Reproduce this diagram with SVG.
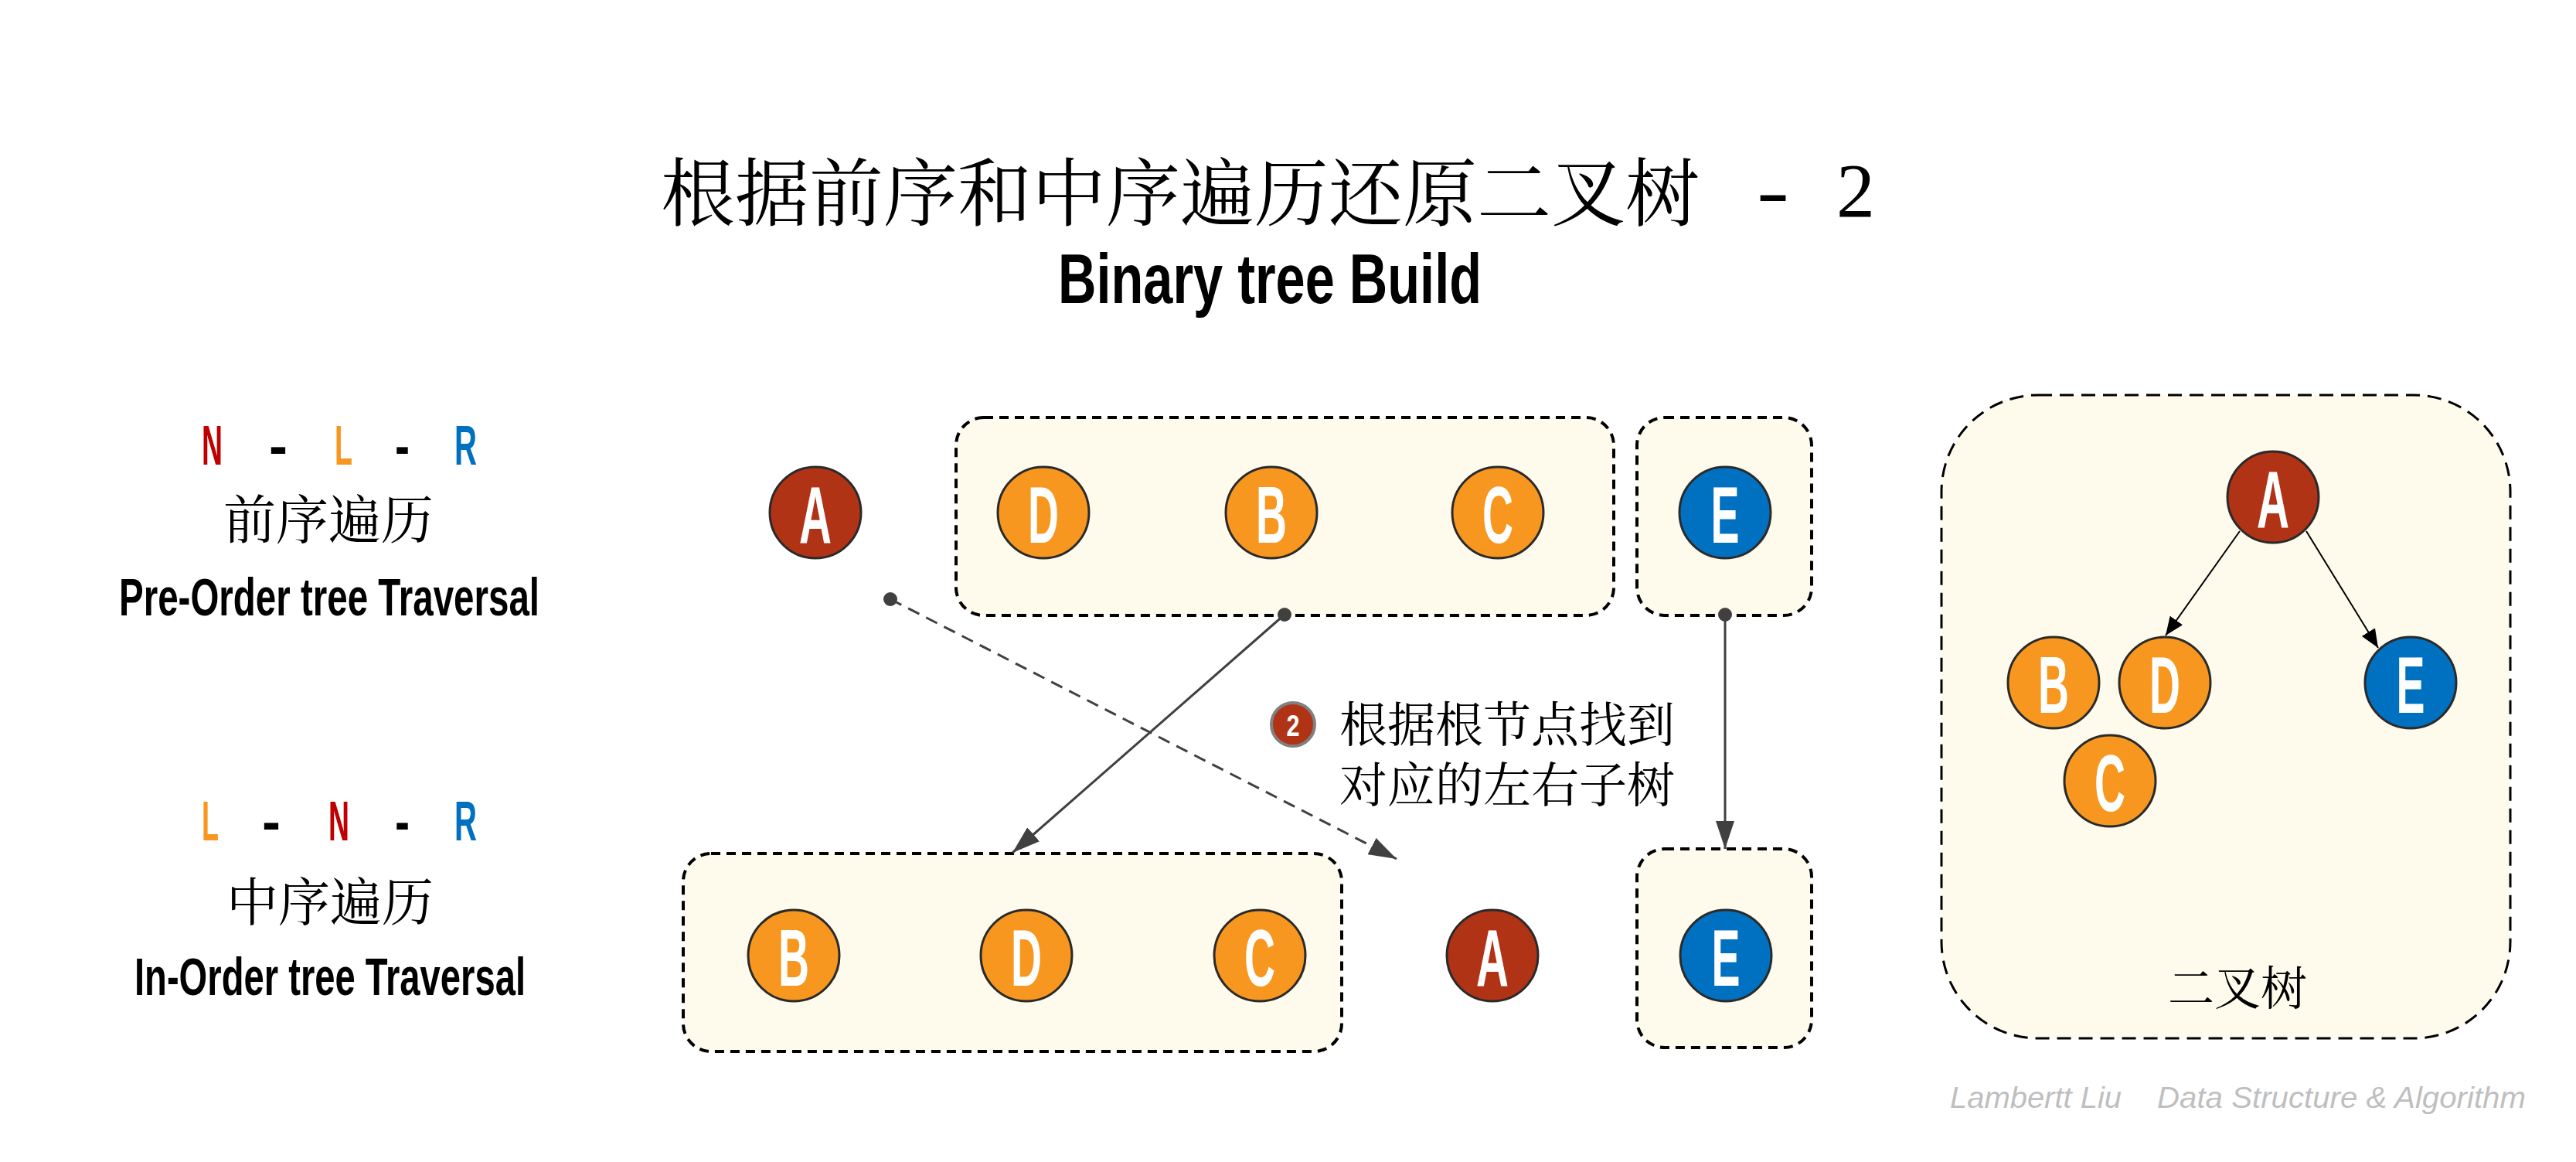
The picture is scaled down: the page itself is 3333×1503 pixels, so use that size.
<svg xmlns="http://www.w3.org/2000/svg" width="3333" height="1503" viewBox="0 0 3333 1503">
<defs>
<style>
.cjk{font-family:"Noto Serif CJK SC","Noto Sans CJK SC",serif;fill:#000}
.cond{font-family:"Liberation Sans",Arial,sans-serif;font-weight:bold}
.box{fill:#FEFBEC;stroke:#000;stroke-width:4;stroke-dasharray:12 8}
.panel{fill:#FEFBEC;stroke:#000;stroke-width:3;stroke-dasharray:18 10}
.nd{stroke:#2a2a2a;stroke-width:3}
.red{fill:#B03316}
.org{fill:#F7971F}
.blu{fill:#0070C0}
.lt{font-family:"Liberation Sans",Arial,sans-serif;font-weight:bold;font-size:104px;fill:#fff;text-anchor:middle}
.wm{font-family:"Liberation Sans",Arial,sans-serif;font-style:italic;font-size:39px;fill:#BFBFBF}
.conn{stroke:#404040;stroke-width:3;fill:none}
.tconn{stroke:#000;stroke-width:2;fill:none}
</style>
<marker id="ag" markerUnits="userSpaceOnUse" markerWidth="36" markerHeight="24" refX="36" refY="12" orient="auto">
<path d="M0,0 L36,12 L0,24 z" fill="#404040"/>
</marker>
<marker id="ab" markerUnits="userSpaceOnUse" markerWidth="24" markerHeight="20" refX="24" refY="10" orient="auto">
<path d="M0,0 L24,10 L0,20 z" fill="#000"/>
</marker>
</defs>
<rect width="3333" height="1503" fill="#fff"/>

<g id="title">
<text class="cjk" x="855" y="284" font-size="96">根据前序和中序遍历还原二叉树</text>
<text x="2273" y="280" font-family="Liberation Serif,serif" font-size="100" textLength="42" lengthAdjust="spacingAndGlyphs">-</text>
<text x="2376" y="280" font-family="Liberation Serif,serif" font-size="100">2</text>
<text class="cond" x="1369" y="392" font-size="90" textLength="548" lengthAdjust="spacingAndGlyphs">Binary tree Build</text>
</g>

<g id="preorder-label">
<text class="cond" x="261" y="601" font-size="73" fill="#C00000" textLength="27" lengthAdjust="spacingAndGlyphs">N</text>
<text class="cond" x="348" y="601" font-size="73" fill="#000" textLength="24" lengthAdjust="spacingAndGlyphs">-</text>
<text class="cond" x="433" y="601" font-size="73" fill="#F7971F" textLength="23" lengthAdjust="spacingAndGlyphs">L</text>
<text class="cond" x="511" y="601" font-size="73" fill="#000" textLength="19" lengthAdjust="spacingAndGlyphs">-</text>
<text class="cond" x="588" y="601" font-size="73" fill="#0070C0" textLength="29" lengthAdjust="spacingAndGlyphs">R</text>
<text class="cjk" x="425" y="697" font-size="68" text-anchor="middle">前序遍历</text>
<text class="cond" x="154" y="796" font-size="68" textLength="544" lengthAdjust="spacingAndGlyphs">Pre-Order tree Traversal</text>
</g>

<g id="inorder-label">
<text class="cond" x="261" y="1087" font-size="73" fill="#F7971F" textLength="22" lengthAdjust="spacingAndGlyphs">L</text>
<text class="cond" x="339" y="1087" font-size="73" fill="#000" textLength="24" lengthAdjust="spacingAndGlyphs">-</text>
<text class="cond" x="425" y="1087" font-size="73" fill="#C00000" textLength="27" lengthAdjust="spacingAndGlyphs">N</text>
<text class="cond" x="511" y="1087" font-size="73" fill="#000" textLength="19" lengthAdjust="spacingAndGlyphs">-</text>
<text class="cond" x="588" y="1087" font-size="73" fill="#0070C0" textLength="29" lengthAdjust="spacingAndGlyphs">R</text>
<text class="cjk" x="427" y="1191" font-size="67" text-anchor="middle">中序遍历</text>
<text class="cond" x="174" y="1287" font-size="68" textLength="506" lengthAdjust="spacingAndGlyphs">In-Order tree Traversal</text>
</g>

<g id="pre-left-box"><rect class="box" x="1237" y="540" width="851" height="256" rx="36"/></g>
<g id="pre-right-box"><rect class="box" x="2118" y="540" width="226" height="256" rx="36"/></g>
<g id="in-left-box"><rect class="box" x="884" y="1104" width="852" height="256" rx="36"/></g>
<g id="in-right-box"><rect class="box" x="2118" y="1098" width="226" height="257" rx="36"/></g>

<g id="pre-A"><circle class="nd red" cx="1055" cy="663" r="59"/><text class="lt" x="1055" y="702" textLength="42" lengthAdjust="spacingAndGlyphs">A</text></g>
<g id="pre-D"><circle class="nd org" cx="1350" cy="663" r="59"/><text class="lt" x="1350" y="702" textLength="40" lengthAdjust="spacingAndGlyphs">D</text></g>
<g id="pre-B"><circle class="nd org" cx="1645" cy="663" r="59"/><text class="lt" x="1645" y="702" textLength="40" lengthAdjust="spacingAndGlyphs">B</text></g>
<g id="pre-C"><circle class="nd org" cx="1938" cy="663" r="59"/><text class="lt" x="1938" y="702" textLength="40" lengthAdjust="spacingAndGlyphs">C</text></g>
<g id="pre-E"><circle class="nd blu" cx="2232" cy="663" r="59"/><text class="lt" x="2232" y="702" textLength="37" lengthAdjust="spacingAndGlyphs">E</text></g>

<g id="in-B"><circle class="nd org" cx="1027" cy="1236" r="59"/><text class="lt" x="1027" y="1275" textLength="40" lengthAdjust="spacingAndGlyphs">B</text></g>
<g id="in-D"><circle class="nd org" cx="1328" cy="1236" r="59"/><text class="lt" x="1328" y="1275" textLength="40" lengthAdjust="spacingAndGlyphs">D</text></g>
<g id="in-C"><circle class="nd org" cx="1630" cy="1236" r="59"/><text class="lt" x="1630" y="1275" textLength="40" lengthAdjust="spacingAndGlyphs">C</text></g>
<g id="in-A"><circle class="nd red" cx="1931" cy="1236" r="59"/><text class="lt" x="1931" y="1275" textLength="42" lengthAdjust="spacingAndGlyphs">A</text></g>
<g id="in-E"><circle class="nd blu" cx="2233" cy="1236" r="59"/><text class="lt" x="2233" y="1275" textLength="37" lengthAdjust="spacingAndGlyphs">E</text></g>

<g id="note">
<circle cx="1673" cy="937" r="28" fill="#B03316" stroke="#808080" stroke-width="4"/>
<text class="cond" x="1673" y="952" font-size="38" fill="#fff" text-anchor="middle" textLength="17" lengthAdjust="spacingAndGlyphs">2</text>
<text class="cjk" x="1733" y="960" font-size="62">根据根节点找到</text>
<text class="cjk" x="1733" y="1038" font-size="62">对应的左右子树</text>
</g>

<g id="connectors">
<line class="conn" x1="1152" y1="775" x2="1807" y2="1111" stroke-dasharray="16 10" marker-end="url(#ag)"/>
<circle cx="1152" cy="775" r="9" fill="#404040"/>
<line class="conn" x1="1662" y1="795" x2="1310" y2="1103" marker-end="url(#ag)"/>
<circle cx="1662" cy="795" r="9" fill="#404040"/>
<line class="conn" x1="2232" y1="795" x2="2232" y2="1098" marker-end="url(#ag)"/>
<circle cx="2232" cy="795" r="9" fill="#404040"/>
</g>

<g id="tree-panel">
<rect class="panel" x="2512" y="511" width="736" height="832" rx="125"/>
<text class="cjk" x="2895" y="1300" font-size="60" text-anchor="middle">二叉树</text>
</g>
<g id="tree-connectors">
<line class="tconn" x1="2898" y1="687" x2="2802" y2="822" marker-end="url(#ab)"/>
<line class="tconn" x1="2984" y1="687" x2="3077" y2="838" marker-end="url(#ab)"/>
</g>
<g id="tree-A"><circle class="nd red" cx="2941" cy="643" r="59"/><text class="lt" x="2941" y="682" textLength="42" lengthAdjust="spacingAndGlyphs">A</text></g>
<g id="tree-B"><circle class="nd org" cx="2657" cy="883" r="59"/><text class="lt" x="2657" y="922" textLength="40" lengthAdjust="spacingAndGlyphs">B</text></g>
<g id="tree-D"><circle class="nd org" cx="2801" cy="883" r="59"/><text class="lt" x="2801" y="922" textLength="40" lengthAdjust="spacingAndGlyphs">D</text></g>
<g id="tree-E"><circle class="nd blu" cx="3119" cy="883" r="59"/><text class="lt" x="3119" y="922" textLength="37" lengthAdjust="spacingAndGlyphs">E</text></g>
<g id="tree-C"><circle class="nd org" cx="2730" cy="1010" r="59"/><text class="lt" x="2730" y="1049" textLength="40" lengthAdjust="spacingAndGlyphs">C</text></g>

<g id="watermark">
<text class="wm" x="2523" y="1433" textLength="222" lengthAdjust="spacingAndGlyphs">Lambertt Liu</text>
<text class="wm" x="2791" y="1433" textLength="477" lengthAdjust="spacingAndGlyphs">Data Structure &amp; Algorithm</text>
</g>
</svg>
